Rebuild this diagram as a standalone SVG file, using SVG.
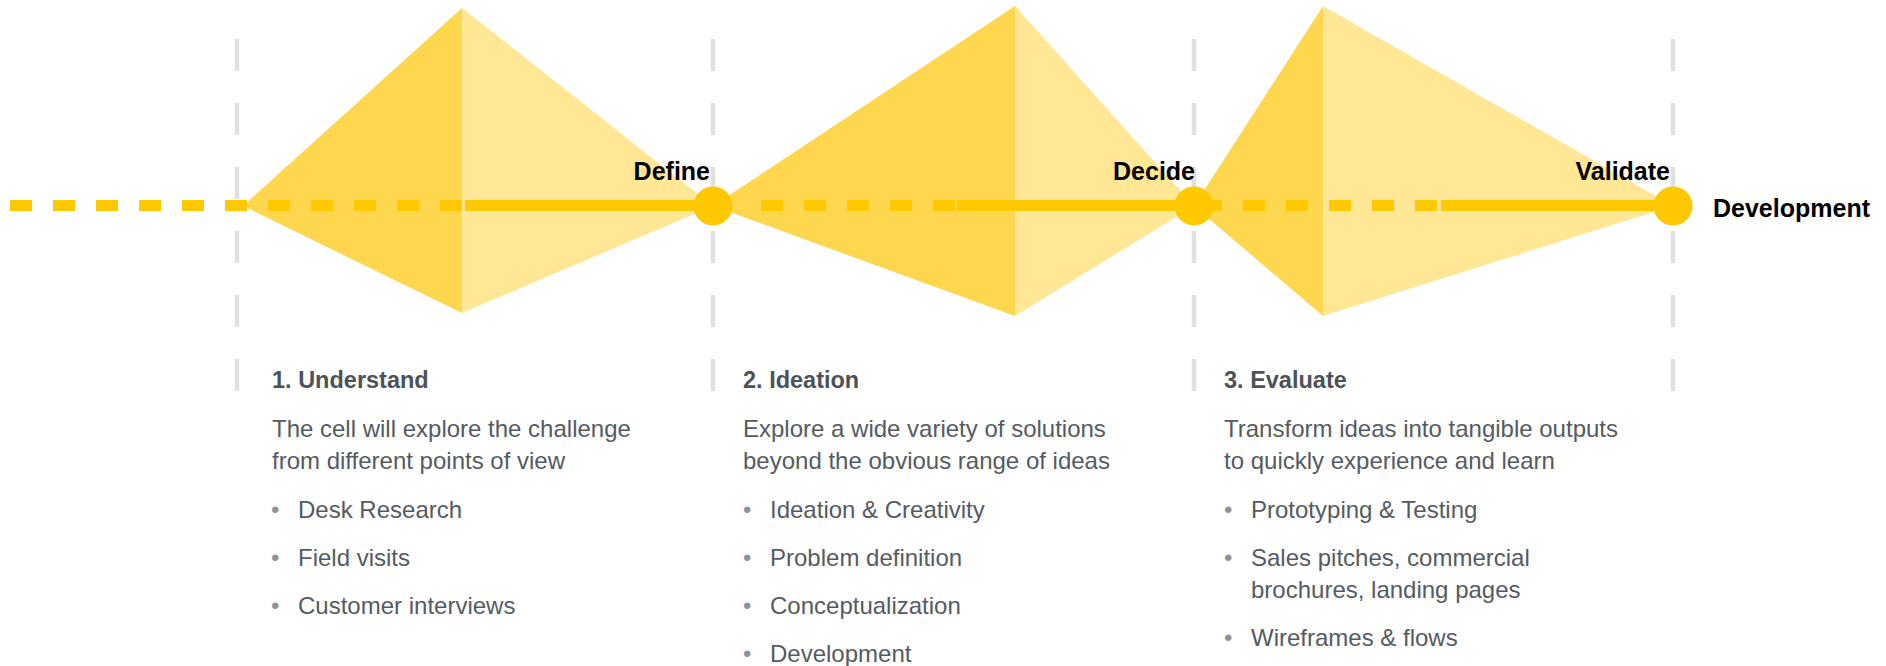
<svg xmlns="http://www.w3.org/2000/svg" width="1886" height="666" viewBox="0 0 1886 666">
  <style>
    .guide { stroke: #e0e0e0; stroke-width: 4.5; stroke-dasharray: 32 32; fill: none; }
    .dark { fill: #ffd74e; }
    .light { fill: #ffe796; }
    .track { stroke: #ffc800; stroke-width: 11; fill: none; }
    .dashed { stroke-dasharray: 22 21; }
    .dot { fill: #ffc800; }
    .label { font-family: "Liberation Sans", Arial, Helvetica, sans-serif; font-weight: bold; font-size: 25px; fill: #000; }
    .title { font-family: "Liberation Sans", Arial, Helvetica, sans-serif; font-weight: bold; font-size: 23.5px; fill: #4d5259; }
    .body { font-family: "Liberation Sans", Arial, Helvetica, sans-serif; font-size: 24px; fill: #555b62; }
    .bullet { font-family: "Liberation Sans", Arial, Helvetica, sans-serif; font-size: 24px; fill: #8e9399; }
  </style>

  <rect width="1886" height="666" fill="#fff"/>

  <!-- phase boundaries -->
  <g id="guides">
    <line class="guide" x1="237" y1="39" x2="237" y2="391"/>
    <line class="guide" x1="713" y1="39" x2="713" y2="391"/>
    <line class="guide" x1="1194" y1="39" x2="1194" y2="391"/>
    <line class="guide" x1="1673" y1="39" x2="1673" y2="391"/>
  </g>

  <!-- diverge / converge shapes -->
  <g id="diamond-understand">
    <polygon class="dark" points="243,206 462,8 462,313"/>
    <polygon class="light" points="462,8 713,206 462,313"/>
  </g>
  <g id="diamond-ideation">
    <polygon class="dark" points="713,206 1015,6 1015,316"/>
    <polygon class="light" points="1015,6 1194,206 1015,316"/>
  </g>
  <g id="diamond-evaluate">
    <polygon class="dark" points="1194,206 1323,6 1323,316"/>
    <polygon class="light" points="1323,6 1673,206 1323,316"/>
  </g>

  <!-- timeline track -->
  <g id="connectors">
    <line class="track dashed" x1="10" y1="205.5" x2="462" y2="205.5"/>
    <line class="track" x1="465" y1="205.5" x2="713" y2="205.5"/>
    <line class="track dashed" x1="761" y1="205.5" x2="955" y2="205.5"/>
    <line class="track" x1="957" y1="205.5" x2="1194" y2="205.5"/>
    <line class="track dashed" x1="1200" y1="205.5" x2="1437" y2="205.5"/>
    <line class="track" x1="1441" y1="205.5" x2="1673" y2="205.5"/>
  </g>

  <!-- milestones -->
  <g id="milestone-define">
    <circle class="dot" cx="713" cy="206" r="19.5"/>
    <text class="label" x="710" y="180" text-anchor="end">Define</text>
  </g>
  <g id="milestone-decide">
    <circle class="dot" cx="1194" cy="206" r="19.5"/>
    <text class="label" x="1195" y="180" text-anchor="end">Decide</text>
  </g>
  <g id="milestone-validate">
    <circle class="dot" cx="1673" cy="206" r="19.5"/>
    <text class="label" x="1670" y="180" text-anchor="end">Validate</text>
  </g>
  <g id="milestone-development">
    <text class="label" x="1713" y="217" font-size="26">Development</text>
  </g>

  <!-- phase descriptions -->
  <g id="phase-understand">
    <text class="title" x="272" y="388">1. Understand</text>
    <text class="body" x="272" y="437">The cell will explore the challenge</text>
    <text class="body" x="272" y="469">from different points of view</text>
    <text class="bullet" x="271" y="518">•</text>
    <text class="body" x="298" y="518">Desk Research</text>
    <text class="bullet" x="271" y="566">•</text>
    <text class="body" x="298" y="566">Field visits</text>
    <text class="bullet" x="271" y="614">•</text>
    <text class="body" x="298" y="614">Customer interviews</text>
  </g>

  <g id="phase-ideation">
    <text class="title" x="743" y="388">2. Ideation</text>
    <text class="body" x="743" y="437">Explore a wide variety of solutions</text>
    <text class="body" x="743" y="469">beyond the obvious range of ideas</text>
    <text class="bullet" x="743" y="518">•</text>
    <text class="body" x="770" y="518">Ideation &amp; Creativity</text>
    <text class="bullet" x="743" y="566">•</text>
    <text class="body" x="770" y="566">Problem definition</text>
    <text class="bullet" x="743" y="614">•</text>
    <text class="body" x="770" y="614">Conceptualization</text>
    <text class="bullet" x="743" y="662">•</text>
    <text class="body" x="770" y="662">Development</text>
  </g>

  <g id="phase-evaluate">
    <text class="title" x="1224" y="388">3. Evaluate</text>
    <text class="body" x="1224" y="437">Transform ideas into tangible outputs</text>
    <text class="body" x="1224" y="469">to quickly experience and learn</text>
    <text class="bullet" x="1224" y="518">•</text>
    <text class="body" x="1251" y="518">Prototyping &amp; Testing</text>
    <text class="bullet" x="1224" y="566">•</text>
    <text class="body" x="1251" y="566">Sales pitches, commercial</text>
    <text class="body" x="1251" y="598">brochures, landing pages</text>
    <text class="bullet" x="1224" y="646">•</text>
    <text class="body" x="1251" y="646">Wireframes &amp; flows</text>
  </g>
</svg>
